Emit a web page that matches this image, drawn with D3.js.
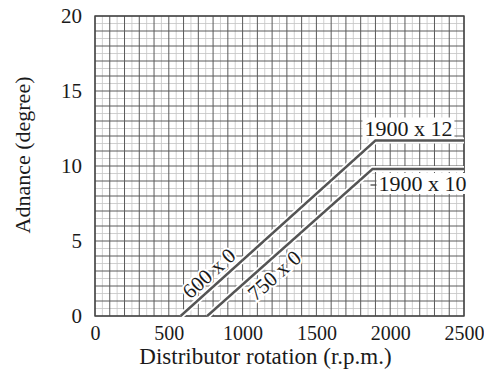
<!DOCTYPE html>
<html><head><meta charset="utf-8">
<script src="https://cdn.jsdelivr.net/npm/d3@7"></script>
<style>
html,body{margin:0;padding:0;background:#fff;}
svg{display:block;}
text{font-family:"Liberation Serif","Times New Roman",serif;fill:#1a1a1a;}
</style></head>
<body>
<script>
// ---- data ----
const xTicks = [0, 500, 1000, 1500, 2000, 2500];
const yTicks = [0, 5, 10, 15, 20];
const xTitle = "Distributor rotation (r.p.m.)";
const yTitle = "Adnance (degree)";
const seriesNames = ["600 x 0", "750 x 0"];
const endLabels = ["1900 x 12", "1900 x 10"];
const upperRpm = [580, 1900, 2500];
const upperAdv = [0, 11.7, 11.7];
const lowerRpm = [760, 1880, 2500];
const lowerAdv = [0, 9.8, 9.8];

const W = 484, H = 381;
const m = {left: 95, right: 20, top: 16, bottom: 65};
const svg = d3.select("body").append("svg").attr("width", W).attr("height", H);

const x = d3.scaleLinear().domain([0, 2500]).range([m.left, W - m.right]);
const y = d3.scaleLinear().domain([0, 20]).range([H - m.bottom, m.top]);

// grid
const g = svg.append("g");
const minorX = d3.range(50, 2500, 100), minorY = d3.range(0.5, 20, 1);
const majorX = d3.range(0, 2501, 100), majorY = d3.range(0, 20.01, 1);
g.selectAll(".mx").data(minorX).join("line")
  .attr("x1", d => x(d)).attr("x2", d => x(d)).attr("y1", y(0)).attr("y2", y(20))
  .attr("stroke", "#c4c4c4").attr("stroke-width", 0.8);
g.selectAll(".my").data(minorY).join("line")
  .attr("y1", d => y(d)).attr("y2", d => y(d)).attr("x1", x(0)).attr("x2", x(2500))
  .attr("stroke", "#c4c4c4").attr("stroke-width", 0.8);
g.selectAll(".Mx").data(majorX).join("line")
  .attr("x1", d => x(d)).attr("x2", d => x(d)).attr("y1", y(0)).attr("y2", y(20))
  .attr("stroke", "#5a5a5a").attr("stroke-width", 1);
g.selectAll(".My").data(majorY).join("line")
  .attr("y1", d => y(d)).attr("y2", d => y(d)).attr("x1", x(0)).attr("x2", x(2500))
  .attr("stroke", "#5a5a5a").attr("stroke-width", 1);
svg.append("rect").attr("x", x(0)).attr("y", y(20))
  .attr("width", x(2500) - x(0)).attr("height", y(0) - y(20))
  .attr("fill", "none").attr("stroke", "#444").attr("stroke-width", 1.4);

// axes (labels only)
const xAxis = svg.append("g").attr("transform", `translate(0,${y(0)})`)
  .call(d3.axisBottom(x).tickValues(xTicks).tickSize(0).tickPadding(10).tickFormat(d3.format("d")));
xAxis.select(".domain").remove();
xAxis.selectAll("text").style("font-size", "20px").attr("fill", "#1a1a1a")
  .style("font-family", '"Liberation Serif",serif');
const yAxis = svg.append("g").attr("transform", `translate(${x(0)},0)`)
  .call(d3.axisLeft(y).tickValues(yTicks).tickSize(0).tickPadding(13).tickFormat(d3.format("d")));
yAxis.select(".domain").remove();
yAxis.selectAll("text").style("font-size", "21px")
  .style("font-family", '"Liberation Serif",serif')
  .attr("fill", d => (d === 0 || d === 20) ? "#b0b0b0" : "#1a1a1a");

svg.append("text").attr("x", (x(0) + x(2500)) / 2 - 14).attr("y", 364)
  .attr("text-anchor", "middle").style("font-size", "23px").text(xTitle);
svg.append("text").attr("transform", `translate(30,${155}) rotate(-90)`)
  .attr("text-anchor", "middle").style("font-size", "22px").text(yTitle);

// lines
const line = d3.line().x(d => x(d[0])).y(d => y(d[1]));
const series = [d3.zip(upperRpm, upperAdv), d3.zip(lowerRpm, lowerAdv)];
series.forEach(s => {
  svg.append("path").datum(s).attr("d", line).attr("fill", "none")
    .attr("stroke", "#fff").attr("stroke-width", 6);
});
series.forEach(s => {
  svg.append("path").datum(s).attr("d", line).attr("fill", "none")
    .attr("stroke", "#555").attr("stroke-width", 2.4);
});

// rotated series labels
function labelOn(s, rpm, off, txt) {
  const [p0, p1] = s;
  const t = (rpm - p0[0]) / (p1[0] - p0[0]);
  const adv = p0[1] + t * (p1[1] - p0[1]);
  const px = x(rpm), py = y(adv);
  const ang = Math.atan2(y(p1[1]) - y(p0[1]), x(p1[0]) - x(p0[0]));
  const nx = Math.sin(ang), ny = -Math.cos(ang);
  svg.append("text")
    .attr("transform", `translate(${px + nx * off},${py + ny * off}) rotate(${ang * 180 / Math.PI})`)
    .attr("text-anchor", "middle").attr("dy", "0.35em")
    .style("font-size", "21px")
    .attr("stroke", "#fff").attr("stroke-width", 4).attr("paint-order", "stroke")
    .text(txt);
}
labelOn(series[0], 830, 13, seriesNames[0]);
labelOn(series[1], 1150, -14, seriesNames[1]);

// end labels
function endLabel(txt, xx, yy) {
  const t = svg.append("text").attr("x", xx).attr("y", yy)
    .style("font-size", "22px").text(txt);
  const b = t.node().getBBox();
  svg.insert("rect", () => t.node()).attr("x", b.x - 2).attr("y", b.y + 2)
    .attr("width", b.width + 4).attr("height", b.height - 4).attr("fill", "#fff");
}
endLabel(endLabels[0], x(1900) - 11, y(upperAdv[1]) - 5);
svg.append("line").attr("x1", x(1880) - 2).attr("x2", x(1880) + 7)
  .attr("y1", y(lowerAdv[1]) + 16).attr("y2", y(lowerAdv[1]) + 16)
  .attr("stroke", "#444").attr("stroke-width", 1.3);
endLabel(endLabels[1], x(1880) + 6, y(lowerAdv[1]) + 22);
</script>
</body></html>
